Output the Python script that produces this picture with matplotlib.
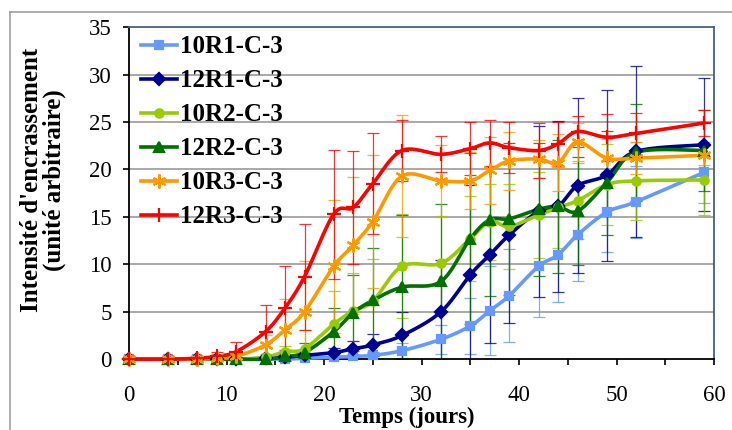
import matplotlib
matplotlib.use('Agg')
import matplotlib.pyplot as plt
from matplotlib.lines import Line2D
import numpy as np

# jours de mesure (communs a toutes les series)
jours = [0, 4, 7, 9, 11, 14, 16, 18, 21, 23, 25, 28, 32, 35, 37, 39, 42, 44, 46, 49, 52, 59]

r1_10 = [0, 0, 0, 0, 0, 0, 0, 0.1, 0.2, 0.3, 0.4, 0.9, 2.1, 3.5, 5.1, 6.7, 9.8, 11.0, 13.1, 15.5, 16.6, 19.7]
r1_10_err = [0, 0, 0, 0, 0, 0, 0, 0.1, 0.2, 0.3, 0.4, 0.8, 1.5, 3.0, 4.7, 4.9, 5.3, 5.0, 4.9, 4.2, 3.8, 3.2]

r1_12 = [0, 0, 0, 0, 0, 0.1, 0.2, 0.4, 0.7, 1.1, 1.5, 2.5, 5.0, 8.9, 11.0, 13.1, 15.6, 16.1, 18.3, 19.4, 21.9, 22.6]
r1_12_err = [0, 0, 0, 0, 0, 0.1, 0.2, 0.3, 0.5, 0.8, 1.2, 2.5, 5.5, 9.5, 9.3, 9.3, 9.0, 9.0, 9.2, 9.0, 9.0, 7.0]

r2_10 = [0, 0, 0, 0, 0, 0.2, 0.8, 1.1, 3.7, 5.1, 6.1, 9.8, 10.1, 12.7, 14.5, 14.0, 15.2, 16.0, 16.7, 18.4, 18.8, 18.9]
r2_10_err = [0, 0, 0, 0, 0, 0.2, 0.6, 2.0, 3.5, 4.0, 4.5, 5.5, 5.0, 4.5, 4.0, 4.5, 4.5, 4.3, 4.0, 4.3, 4.1, 3.7]

r2_12 = [0, 0, 0, 0, 0, 0, 0.3, 0.7, 2.9, 4.9, 6.2, 7.6, 8.2, 12.7, 14.7, 14.8, 15.8, 16.1, 15.6, 18.6, 21.8, 22.0]
r2_12_err = [0, 0, 0, 0, 0, 0, 0.3, 1.0, 2.5, 4.0, 5.5, 7.6, 8.2, 9.0, 8.0, 8.0, 7.0, 7.0, 5.7, 5.5, 5.1, 4.3]

r3_10 = [0, 0, 0, 0.1, 0.3, 1.5, 3.1, 5.0, 9.8, 12.0, 14.5, 19.3, 18.8, 18.8, 19.9, 20.9, 21.1, 20.7, 22.9, 21.2, 21.2, 21.5]
r3_10_err = [0, 0, 0, 0.2, 0.4, 1.0, 3.2, 5.3, 7.0, 7.2, 7.0, 6.4, 3.8, 3.0, 3.5, 3.1, 2.0, 3.0, 2.0, 2.0, 1.7, 1.0]

r3_12 = [0, 0, 0.1, 0.3, 0.8, 2.9, 5.4, 8.7, 15.3, 16.0, 18.5, 22.0, 21.6, 22.2, 22.8, 22.3, 22.0, 22.7, 24.0, 23.4, 23.8, 24.9]
r3_12_err = [0, 0, 0.2, 0.5, 1.0, 2.8, 4.4, 5.6, 6.8, 6.0, 5.3, 3.2, 1.9, 2.8, 2.4, 2.7, 2.9, 2.3, 1.6, 2.5, 2.2, 1.4]

noms = ['10R1-C-3', '12R1-C-3', '10R2-C-3', '12R2-C-3', '10R3-C-3', '12R3-C-3']
series = [(r1_10, r1_10_err), (r1_12, r1_12_err), (r2_10, r2_10_err),
          (r2_12, r2_12_err), (r3_10, r3_10_err), (r3_12, r3_12_err)]
couleurs = ['#6699FF', '#000090', '#99CC00', '#007000', '#FF9900', '#FF0000']
marqueurs = ['s', 'D', 'o', '^', (6, 2, 0), '+']
tailles = [5.5, 6, 6, 7, 10, 10]


def lisse(x, y, n=20):
    # courbe lissee facon Excel (bezier type Catmull-Rom)
    x = np.asarray(x, float)
    y = np.asarray(y, float)
    px, py = [], []
    for i in range(len(x) - 1):
        x0, y0 = (x[i - 1], y[i - 1]) if i > 0 else (x[i], y[i])
        x3, y3 = (x[i + 2], y[i + 2]) if i + 2 < len(x) else (x[i + 1], y[i + 1])
        c1x = x[i] + (x[i + 1] - x0) / 6
        c1y = y[i] + (y[i + 1] - y0) / 6
        c2x = x[i + 1] - (x3 - x[i]) / 6
        c2y = y[i + 1] - (y3 - y[i]) / 6
        t = np.linspace(0, 1, n)
        px.extend((1 - t)**3 * x[i] + 3 * (1 - t)**2 * t * c1x + 3 * (1 - t) * t**2 * c2x + t**3 * x[i + 1])
        py.extend((1 - t)**3 * y[i] + 3 * (1 - t)**2 * t * c1y + 3 * (1 - t) * t**2 * c2y + t**3 * y[i + 1])
    return px, py


plt.rcParams['font.family'] = ['Liberation Serif', 'DejaVu Serif']

fig = plt.figure(figsize=(7.32, 4.30), dpi=100)
ax = fig.add_axes([129 / 732, 1 - 359.2 / 430, 585 / 732, 332 / 430])

for yg in range(5, 35, 5):
    ax.axhline(yg, color='#9a9a9a', lw=1.2, zorder=0)

for (vals, err), nom, c, m, ms in zip(series, noms, couleurs, marqueurs, tailles):
    ax.errorbar(jours, vals, yerr=err, fmt='none', ecolor=c, elinewidth=0.9,
                capsize=4, capthick=0.9, alpha=0.8, zorder=2)
    sx, sy = lisse(jours, vals)
    ax.plot(sx, sy, color=c, lw=2.6, zorder=3, clip_on=False, solid_capstyle='round')
    ax.plot(jours, vals, ls='none', marker=m, ms=ms, color=c, mec=c,
            mew=1.6, zorder=4, clip_on=False)

handles = [Line2D([], [], color=c, lw=2.6, marker=m, ms=ms, mec=c, mew=1.6)
           for c, m, ms in zip(couleurs, marqueurs, tailles)]
ax.legend(handles, noms, loc='upper left', bbox_to_anchor=(0.01, 0.994), frameon=False,
          prop={'weight': 'bold', 'size': 18}, handlelength=1.45, handletextpad=0.12,
          labelspacing=0.44, borderaxespad=0, borderpad=0.25)

ax.set_xlim(0, 60)
ax.set_ylim(0, 35)
ax.set_xticks(range(0, 61, 10))
ax.set_xticks(range(5, 60, 10), minor=True)
ax.set_yticks(range(0, 36, 5))
ax.tick_params(axis='both', which='both', direction='out', length=4.5, width=1.2,
               labelsize=16.5, color='black')
ax.tick_params(axis='x', pad=14)
ax.tick_params(axis='y', pad=8)

for s in ['top', 'right']:
    ax.spines[s].set_color('#4a6080')
    ax.spines[s].set_linewidth(1.3)
ax.spines['left'].set_linewidth(1.3)
ax.spines['bottom'].set_linewidth(1.3)

ax.set_xlabel('Temps (jours)', fontsize=16.5, fontweight='bold', labelpad=0)
ax.xaxis.set_label_coords(0.475, -0.142)
ax.set_ylabel("Intensité d'encrassement\n(unité arbitraire)", fontsize=18,
              fontweight='bold', linespacing=0.95)
ax.yaxis.set_label_coords(-0.108, 0.54)

# cadre exterieur du graphique
fig.add_artist(Line2D([10 / 732, 10 / 732], [0, 1 - 12 / 430], transform=fig.transFigure,
                      color='#a0a0a0', lw=1.2))
fig.add_artist(Line2D([10 / 732, 1], [1 - 12 / 430, 1 - 12 / 430], transform=fig.transFigure,
                      color='#a0a0a0', lw=1.2))

fig.savefig('out.png', dpi=100)
